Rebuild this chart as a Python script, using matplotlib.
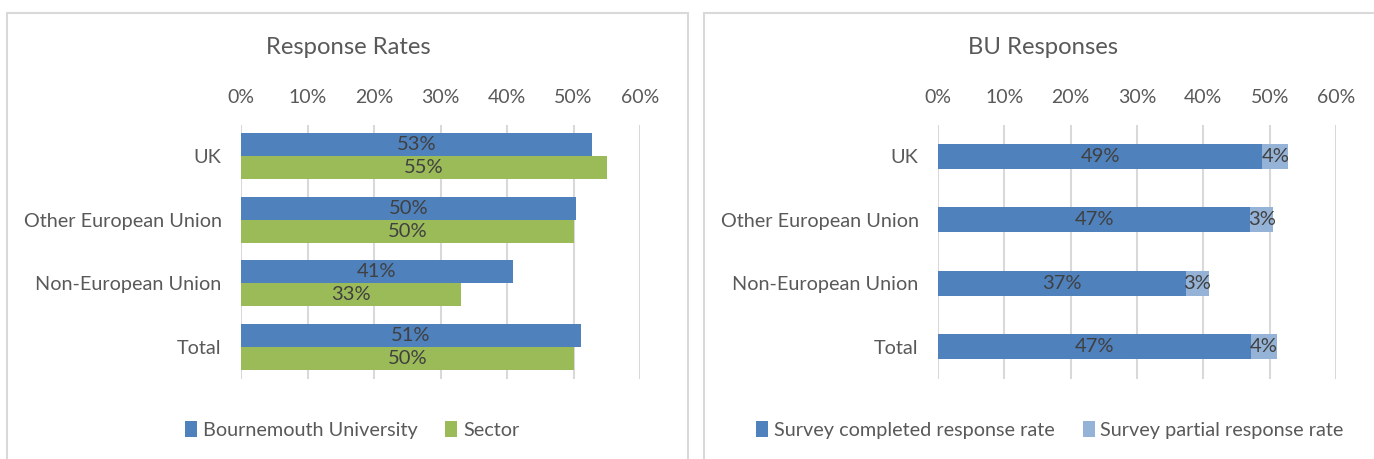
import numpy as np
import matplotlib.pyplot as plt
from matplotlib.patches import Rectangle

categories = ["UK", "Other European Union", "Non-European Union", "Total"]

# left panel: response rates (%)
bu_rate = [52.8, 50.4, 40.9, 51.1]
sector_rate = [55.0, 50.1, 33.1, 50.1]

# right panel: BU responses (%)
completed = [48.9, 47.1, 37.4, 47.2]
partial = [3.9, 3.4, 3.4, 3.9]

ticks = [0, 10, 20, 30, 40, 50, 60]

plt.rcParams.update({
    "font.family": ["Lato", "DejaVu Sans"],
    "font.size": 14,
})

colors = {
    "bu": "#4F81BD",
    "sector": "#9BBB59",
    "partial": "#95B3D7",
    "grid": "#D9D9D9",
    "text": "#595959",
    "label": "#404040",
}

W, H = 1374, 459
fig = plt.figure(figsize=(W / 100, H / 100), dpi=100)

# panel borders
for x0, x1 in [(7, 688), (704, 1390)]:
    fig.patches.append(Rectangle((x0 / W, -0.05), (x1 - x0) / W, 1.05 - 13 / H,
                                 transform=fig.transFigure, fill=False,
                                 edgecolor=colors["grid"], linewidth=1.5))

bottom = 1 - 378.5 / H
height = 254 / H
ax1 = fig.add_axes([241 / W, bottom, 399 / W, height])
ax2 = fig.add_axes([938 / W, bottom, 398 / W, height])

y = np.arange(len(categories))


def style(ax):
    ax.set_xlim(0, 60)
    ax.set_ylim(len(categories) - 0.5, -0.5)
    ax.set_xticks(ticks)
    ax.set_xticklabels([f"{t}%" for t in ticks], color=colors["text"], fontsize=14)
    ax.xaxis.tick_top()
    ax.tick_params(axis="x", length=0, pad=13)
    ax.tick_params(axis="y", length=0, pad=14)
    ax.set_yticks(y)
    ax.set_yticklabels(categories, color=colors["text"], fontsize=14.3)
    ax.grid(axis="x", color=colors["grid"], linewidth=1.5)
    ax.set_axisbelow(True)
    for s in ax.spines.values():
        s.set_visible(False)


# left: grouped bars
bh = 0.365
b1 = ax1.barh(y - bh / 2, bu_rate, height=bh, color=colors["bu"], label="Bournemouth University")
b2 = ax1.barh(y + bh / 2, sector_rate, height=bh, color=colors["sector"], label="Sector")
for bars, vals in [(b1, bu_rate), (b2, sector_rate)]:
    for r, v in zip(bars, vals):
        ax1.text(v / 2, r.get_y() + r.get_height() / 2, f"{round(v)}%",
                 ha="center", va="center", color=colors["label"], fontsize=14.5)
style(ax1)

# right: stacked bars
bh2 = 0.39
c1 = ax2.barh(y, completed, height=bh2, color=colors["bu"], label="Survey completed response rate")
c2 = ax2.barh(y, partial, left=completed, height=bh2, color=colors["partial"],
              label="Survey partial response rate")
for i in range(len(categories)):
    ax2.text(completed[i] / 2, y[i], f"{round(completed[i])}%", ha="center", va="center",
             color=colors["label"], fontsize=14.5)
    ax2.text(completed[i] + partial[i] / 2, y[i], f"{round(partial[i])}%", ha="center",
             va="center", color=colors["label"], fontsize=14.5)
style(ax2)

# titles
fig.text(348 / W, 1 - 48 / H, "Response Rates", ha="center", va="center",
         color=colors["text"], fontsize=17.2)
fig.text(1043 / W, 1 - 48 / H, "BU Responses", ha="center", va="center",
         color=colors["text"], fontsize=17.2)

# legends
leg_kw = dict(loc="center", ncol=2, frameon=False, fontsize=14.3, handlelength=0.6,
              handleheight=0.9, handletextpad=0.3, columnspacing=1.4, labelcolor=colors["text"])
fig.legend(handles=[b1, b2], bbox_to_anchor=(352 / W, 1 - 430 / H), **leg_kw)
fig.legend(handles=[c1, c2], bbox_to_anchor=(1050 / W, 1 - 430 / H), **leg_kw)

fig.savefig("out.png", dpi=100, facecolor="white")
